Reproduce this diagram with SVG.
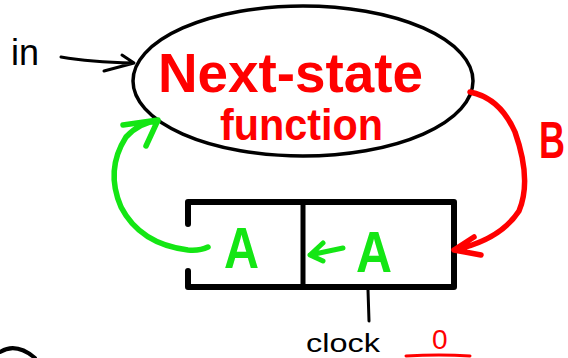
<svg xmlns="http://www.w3.org/2000/svg" width="568" height="358" viewBox="0 0 568 358">
<style>
  .blk{fill:none;stroke:#000;stroke-linecap:round;stroke-linejoin:round}
  .red{fill:none;stroke:#f00;stroke-linecap:round;stroke-linejoin:round}
  .grn{fill:none;stroke:#14e614;stroke-linecap:round;stroke-linejoin:round}
  .t{font-family:"Liberation Sans",Arial,sans-serif}
  .tr{fill:#f00;font-weight:bold}
  .tg{fill:#14e614;font-weight:bold}
  .tb{fill:#000}
</style>
<rect width="568" height="358" fill="#fff"/>
<g id="next-state">
  <ellipse cx="303" cy="81" rx="170" ry="75" class="blk" stroke-width="3.5"/>
  <text class="t tr" x="158" y="92" font-size="56" textLength="265" lengthAdjust="spacingAndGlyphs">Next-state</text>
  <text class="t tr" x="220" y="140" font-size="44" textLength="163" lengthAdjust="spacingAndGlyphs">function</text>
</g>
<g id="register">
  <path class="blk" stroke-width="6" stroke-linecap="butt" stroke-linejoin="miter" d="M188,224 V202 H454 V287 H188 V271"/>
  <path class="blk" stroke-width="5" d="M303,202 V287"/>
  <text class="t tg" x="224" y="268" font-size="58" textLength="35" lengthAdjust="spacingAndGlyphs">A</text>
  <text class="t tg" x="356" y="272" font-size="58" textLength="36" lengthAdjust="spacingAndGlyphs">A</text>
</g>
<g id="in-label">
  <text class="t tb" x="11" y="65" font-size="36">in</text>
</g>
<g id="clock-label">
  <text class="t tb" x="306" y="352" font-size="26" textLength="74" lengthAdjust="spacingAndGlyphs">clock</text>
  <text class="t" x="432" y="349" font-size="28" fill="#f00">0</text>
  <path class="red" stroke-width="3" d="M406,356 Q440,354 470,356"/>
</g>
<g id="b-label">
  <text class="t tr" transform="translate(539,158) scale(1,1.45)" x="0" y="0" font-size="36">B</text>
</g>
<g id="partial-node">
  <path class="blk" stroke-width="4" d="M0,352 Q16,342 35,358"/>
</g>
<g id="connectors">
  <path class="blk" stroke-width="3" d="M61,57 Q90,62 133,63 M122,55 L134,63 L104,71"/>
  <path class="red" stroke-width="5.5" d="M470,92 Q500,98 515,132 Q532,180 519,211 Q500,240 454,250 M474,237 L454,250 L481,255"/>
  <path class="grn" stroke-width="5.5" d="M208,247 Q200,251 188,250 Q140,244 121,207 Q105,170 126,137 Q140,122 158,121 M123,125 L158,120 L146,146"/>
  <path class="grn" stroke-width="5" d="M343,248 L310,255 M323,243 L310,255 L323,261"/>
  <path class="blk" stroke-width="3" d="M368,290 L369,321"/>
</g>
</svg>
